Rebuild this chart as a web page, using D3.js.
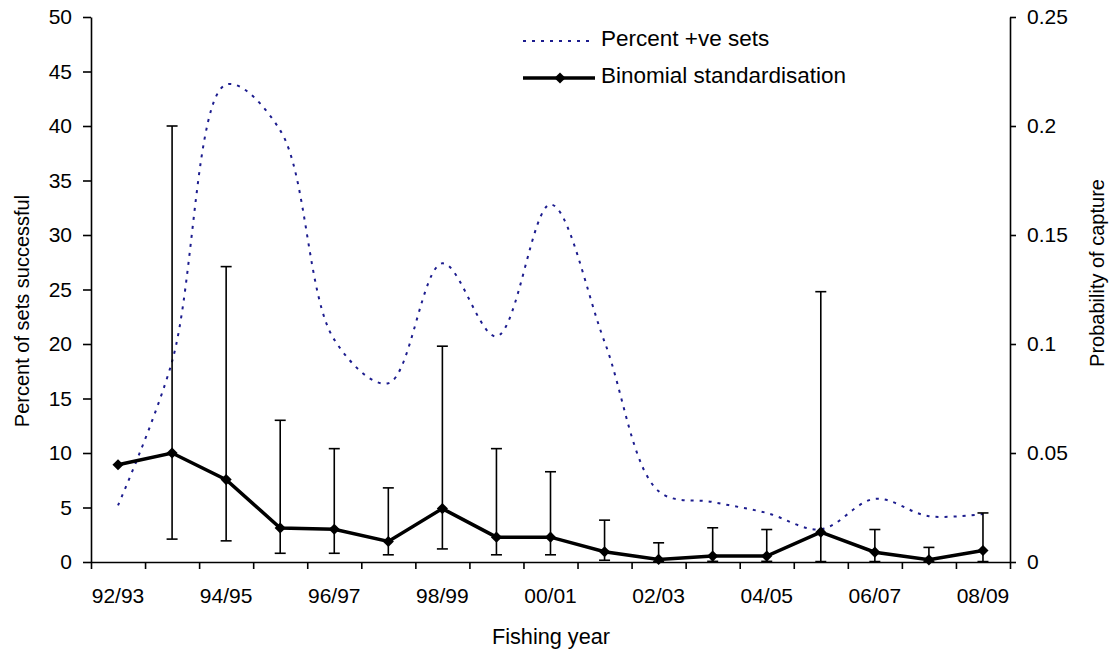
<!DOCTYPE html>
<html>
<head>
<meta charset="utf-8">
<script src="https://cdn.jsdelivr.net/npm/d3@7"></script>
<style>
  body { margin: 0; background: #fff; }
  svg text { font-family: "Liberation Sans", Arial, sans-serif; fill: #000; }
</style>
</head>
<body>
<svg id="chart"></svg>
<script>
// fishing years, one band each
const years = ["92/93", "93/94", "94/95", "95/96", "96/97", "97/98", "98/99", "99/00",
    "00/01", "01/02", "02/03", "03/04", "04/05", "05/06", "06/07", "07/08", "08/09"];

// percent of sets with a catch (left axis)
const percentPositive = [5.2, 18.4, 43.8, 39.6, 20.4, 16.4, 27.4, 20.7, 32.8,
    20.2, 6.5, 5.5, 4.5, 3.0, 5.8, 4.2, 4.4];

// binomial standardised probability of capture (right axis)
const binomial = [0.0446, 0.050, 0.0378, 0.0156, 0.015, 0.0094, 0.0245, 0.0114, 0.0114,
    0.0047, 0.0012, 0.0027, 0.0027, 0.0137, 0.0045, 0.001, 0.0053];
const binomialUpper = [null, 0.200, 0.1355, 0.065, 0.052, 0.034, 0.099, 0.052, 0.0414,
    0.0192, 0.0088, 0.0157, 0.0149, 0.124, 0.0149, 0.0067, 0.0225];
const binomialLower = [null, 0.0105, 0.0097, 0.004, 0.004, 0.0033, 0.006, 0.0033, 0.0033,
    0.0008, 0.0002, 0.0003, 0.0003, 0.0002, 0.0002, 0.0002, 0.0002];

const leftTicks = [0, 5, 10, 15, 20, 25, 30, 35, 40, 45, 50];
const rightTicks = [0, 0.05, 0.1, 0.15, 0.2, 0.25];
const labelledYears = ["92/93", "94/95", "96/97", "98/99", "00/01", "02/03", "04/05", "06/07", "08/09"];

// TODO: config
const width = 1115;
const height = 652;
const plotLeft = 91, plotRight = 1010, plotTop = 17, plotBottom = 562;
const fontSize = 21;
const titleSize = 20;
const legendSize = 22.5;

const svg = d3.select("#chart").attr("width", width).attr("height", height);

const x = d3.scaleBand().domain(years).range([plotLeft, plotRight]);
const xEdge = d3.scaleLinear().domain([0, years.length]).range([plotLeft, plotRight]);
const yLeft = d3.scaleLinear().domain([0, 50]).range([plotBottom, plotTop]);
const yRight = d3.scaleLinear().domain([0, 0.25]).range([plotBottom, plotTop]);
const cx = d => x(d) + x.bandwidth() / 2;

// ############# axes #############
const styleAxis = g => {
    g.selectAll("path, line").attr("stroke", "#000").attr("stroke-width", 1.6);
    g.selectAll("text").attr("font-size", fontSize).attr("font-family", null).attr("fill", "#000");
};

svg.append("g")
    .attr("transform", `translate(${plotLeft},0)`)
    .call(d3.axisLeft(yLeft).tickValues(leftTicks).tickSize(8).tickSizeOuter(0).tickPadding(11))
    .call(styleAxis);

svg.append("g")
    .attr("transform", `translate(${plotRight},0)`)
    .call(d3.axisRight(yRight).tickValues(rightTicks).tickFormat(d => String(d))
        .tickSize(6).tickSizeOuter(0).tickPadding(11))
    .call(styleAxis);

// boundary ticks between fishing years
svg.append("g")
    .attr("transform", `translate(0,${plotBottom})`)
    .call(d3.axisBottom(xEdge).tickValues(d3.range(years.length + 1)).tickFormat("")
        .tickSize(7).tickSizeOuter(0))
    .call(styleAxis);

// every other year gets a label, centred in its band
svg.append("g")
    .attr("transform", `translate(0,${plotBottom})`)
    .call(d3.axisBottom(x).tickValues(labelledYears).tickSize(0).tickPadding(26))
    .call(styleAxis)
    .call(g => g.select(".domain").remove());

svg.append("text")
    .attr("transform", "translate(22,311) rotate(-90)")
    .attr("text-anchor", "middle")
    .attr("dy", "0.35em")
    .attr("font-size", titleSize)
    .text("Percent of sets successful");

svg.append("text")
    .attr("transform", "translate(1097,273) rotate(-90)")
    .attr("text-anchor", "middle")
    .attr("dy", "0.35em")
    .attr("font-size", titleSize)
    .text("Probability of capture");

svg.append("text")
    .attr("x", 551)
    .attr("y", 644)
    .attr("text-anchor", "middle")
    .attr("font-size", 21.7)
    .text("Fishing year");

// ############# percent +ve sets (smoothed, dotted) #############
const percentLine = d3.line()
    .x((d, i) => cx(years[i]))
    .y(d => yLeft(d))
    .curve(d3.curveCatmullRom.alpha(0.5));

svg.append("path")
    .datum(percentPositive)
    .attr("d", percentLine)
    .attr("fill", "none")
    .attr("stroke", "#1c1c8e")
    .attr("stroke-width", 2)
    .attr("stroke-dasharray", "3,6");

// ############# error bars #############
const bars = years.map((year, i) => ({ year, lo: binomialLower[i], hi: binomialUpper[i] }))
    .filter(d => d.hi !== null);
const capHalf = 5.5;

const errGroup = svg.append("g").attr("stroke", "#000").attr("stroke-width", 1.6);
errGroup.selectAll(".stem").data(bars).enter().append("line")
    .attr("x1", d => cx(d.year)).attr("x2", d => cx(d.year))
    .attr("y1", d => yRight(d.lo)).attr("y2", d => yRight(d.hi));
errGroup.selectAll(".capTop").data(bars).enter().append("line")
    .attr("x1", d => cx(d.year) - capHalf).attr("x2", d => cx(d.year) + capHalf)
    .attr("y1", d => yRight(d.hi)).attr("y2", d => yRight(d.hi));
errGroup.selectAll(".capBottom").data(bars).enter().append("line")
    .attr("x1", d => cx(d.year) - capHalf).attr("x2", d => cx(d.year) + capHalf)
    .attr("y1", d => yRight(d.lo)).attr("y2", d => yRight(d.lo));

// ############# binomial standardisation #############
const binLine = d3.line()
    .x((d, i) => cx(years[i]))
    .y(d => yRight(d));

svg.append("path")
    .datum(binomial)
    .attr("d", binLine)
    .attr("fill", "none")
    .attr("stroke", "#000")
    .attr("stroke-width", 3.5);

const diamond = d3.symbol(d3.symbolSquare, 62);
svg.selectAll(".marker").data(binomial).enter().append("path")
    .attr("class", "marker")
    .attr("d", diamond)
    .attr("transform", (d, i) => `translate(${cx(years[i])},${yRight(d)}) rotate(45)`)
    .attr("fill", "#000");

// ############# legend #############
const legend = svg.append("g");
legend.append("line")
    .attr("x1", 523).attr("x2", 592).attr("y1", 41).attr("y2", 41)
    .attr("stroke", "#1c1c8e").attr("stroke-width", 2).attr("stroke-dasharray", "3,6");
legend.append("text").attr("x", 601).attr("y", 46).attr("font-size", legendSize).text("Percent +ve sets");

legend.append("line")
    .attr("x1", 523).attr("x2", 595).attr("y1", 78).attr("y2", 78)
    .attr("stroke", "#000").attr("stroke-width", 3.5);
legend.append("path")
    .attr("d", diamond)
    .attr("transform", "translate(560,78) rotate(45)")
    .attr("fill", "#000");
legend.append("text").attr("x", 601).attr("y", 83).attr("font-size", legendSize).text("Binomial standardisation");
</script>
</body>
</html>
